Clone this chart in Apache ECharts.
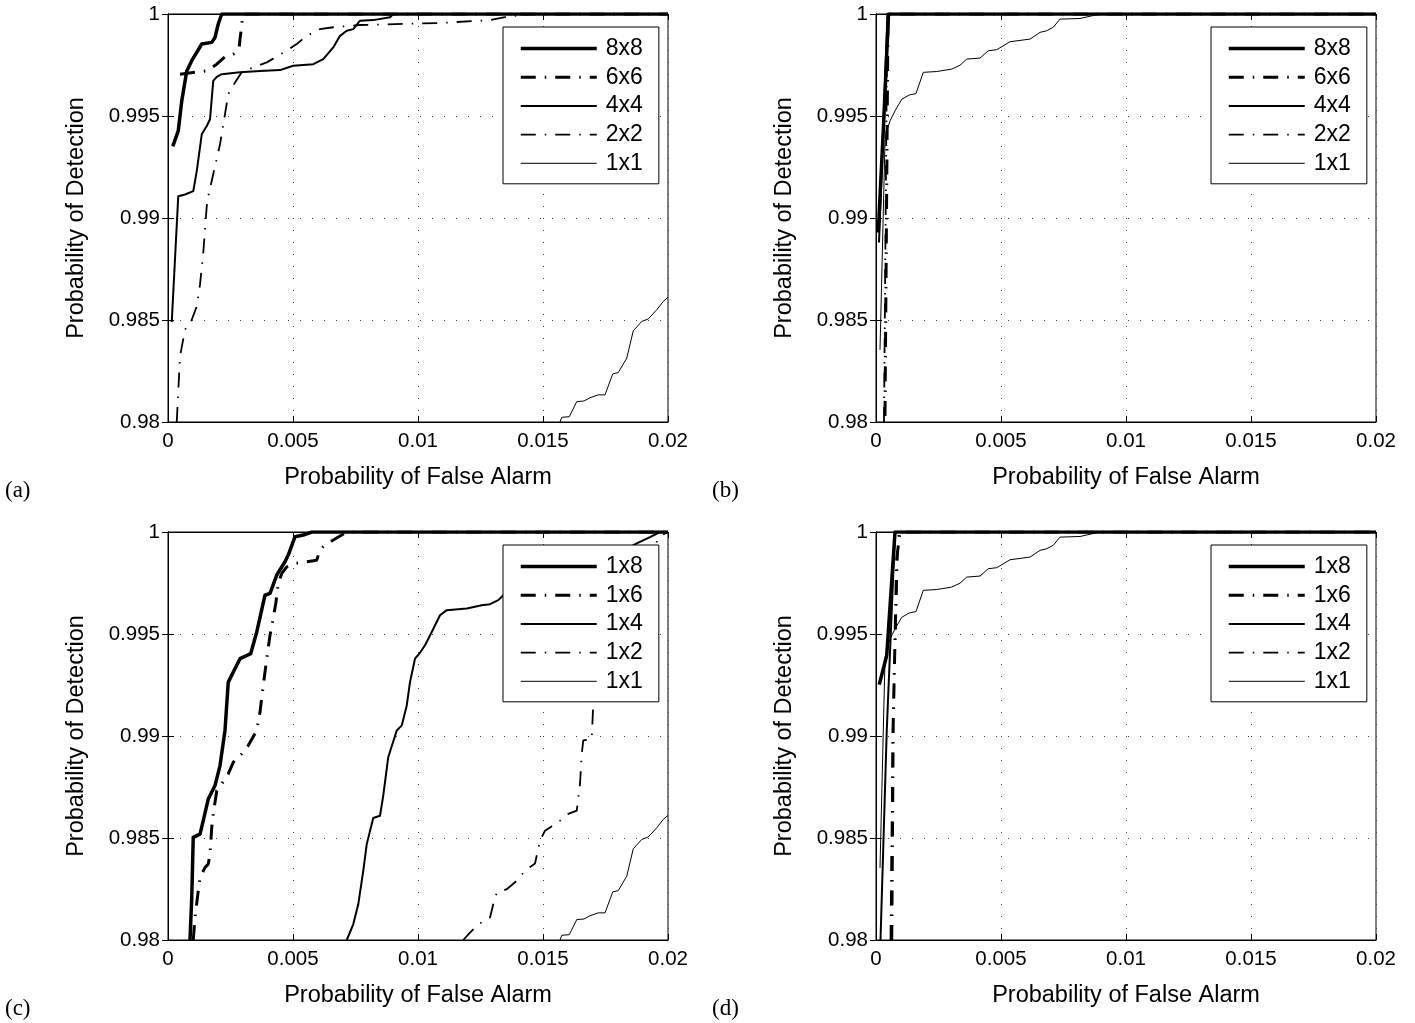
<!DOCTYPE html>
<html><head><meta charset="utf-8">
<script src="https://cdn.jsdelivr.net/npm/echarts@6/dist/echarts.min.js"></script>
<style>html,body{margin:0;padding:0;background:#fff}#c{width:1415px;height:1023px}</style>
</head><body><div id="c"></div>
<script>
// ---- tick labels / names ----
const xTickLabels = ['0', '0.005', '0.01', '0.015', '0.02'];
const yTickLabels = ['0.98', '0.985', '0.99', '0.995', '1'];
const namesTop = ['8x8', '6x6', '4x4', '2x2', '1x1'];
const namesBottom = ['1x8', '1x6', '1x4', '1x2', '1x1'];
const panelLabels = ['(a)', '(b)', '(c)', '(d)'];
const xTitle = 'Probability of False Alarm';
const yTitle = 'Probability of Detection';

// ---- panel (a) ----
const a_8x8 = [[0.00019,0.99351],[0.00041,0.99427],[0.00055,0.99574],[0.00075,0.99721],[0.00095,0.99771],[0.00135,0.99853],[0.00175,0.99861],[0.00188,0.99885],[0.00201,0.99951],[0.00215,1],[0.02,1]];
const a_6x6 = [[0.00048,0.99705],[0.00155,0.99721],[0.00195,0.99754],[0.00228,0.9979],[0.00261,0.99803],[0.00284,0.99828],[0.00288,0.99877],[0.00295,0.99943],[0.00299,1],[0.02,1]];
const a_4x4 = [[0.00015,0.9849],[0.00041,0.99107],[0.00068,0.99115],[0.00101,0.99132],[0.00115,0.9923],[0.00135,0.9941],[0.00155,0.99451],[0.00168,0.99484],[0.00181,0.99672],[0.00195,0.99692],[0.00215,0.99705],[0.00288,0.99714],[0.00368,0.99721],[0.00448,0.99725],[0.00501,0.99746],[0.00581,0.99754],[0.00621,0.99779],[0.00661,0.99836],[0.00688,0.99893],[0.00715,0.99918],[0.00741,0.99926],[0.00768,0.99967],[0.00821,0.9997],[0.00888,0.99984],[0.00901,1],[0.02,1]];
const a_2x2 = [[0.00035,0.98],[0.00048,0.98321],[0.00068,0.98452],[0.00095,0.98501],[0.00115,0.98567],[0.00128,0.98673],[0.00141,0.98829],[0.00155,0.99058],[0.00161,0.99107],[0.00208,0.99361],[0.00228,0.99509],[0.00241,0.99607],[0.00268,0.99664],[0.00295,0.99714],[0.00341,0.99738],[0.00395,0.99763],[0.00475,0.9982],[0.00515,0.99853],[0.00555,0.99893],[0.00608,0.99926],[0.00661,0.99935],[0.00768,0.99946],[0.01088,0.99956],[0.01288,0.9997],[0.01348,0.99985],[0.01448,1],[0.02,1]];
const a_1x1 = [[0.01568,0.98],[0.01575,0.98023],[0.01605,0.98026],[0.01635,0.981],[0.01664,0.98103],[0.01688,0.98119],[0.01721,0.98133],[0.01748,0.98133],[0.01779,0.98236],[0.01801,0.98242],[0.01835,0.98313],[0.01861,0.98447],[0.01895,0.98493],[0.01921,0.98505],[0.01955,0.9855],[0.01981,0.98591],[0.02,0.98611]];

// ---- panel (b) ----
const b_8x8 = [[0.00009,0.98929],[0.00030,0.99450],[0.00050,1],[0.02,1]];
const b_6x6 = [[0.00036,0.9803],[0.00048,1],[0.02,1]];
const b_4x4 = [[0.00012,0.9888],[0.00046,1],[0.02,1]];
const b_2x2 = [[0.00032,0.98],[0.00045,1],[0.02,1]];
const b_1x1 = [[0.00016,0.98354],[0.00036,0.99377],[0.00043,0.99427],[0.00056,0.99476],[0.00076,0.99525],[0.00103,0.99582],[0.00133,0.99603],[0.0016,0.9961],[0.00189,0.99714],[0.00243,0.99718],[0.00303,0.9973],[0.00336,0.99749],[0.00363,0.99779],[0.00416,0.99784],[0.00449,0.9982],[0.00483,0.99825],[0.00536,0.99864],[0.00616,0.99877],[0.00656,0.9991],[0.00683,0.99918],[0.00709,0.99935],[0.00736,0.99975],[0.00816,0.99978],[0.00896,1],[0.02,1]];

// ---- panel (c) ----
const c_1x8 = [[0.00088,0.98],[0.00095,0.98208],[0.00101,0.98503],[0.00128,0.98519],[0.00141,0.98585],[0.00161,0.98691],[0.00188,0.98757],[0.00208,0.98855],[0.00228,0.99027],[0.00241,0.99264],[0.00288,0.99379],[0.00331,0.99404],[0.00355,0.9951],[0.00388,0.9969],[0.00408,0.99699],[0.00435,0.99789],[0.00468,0.99854],[0.00481,0.99887],[0.00508,0.99977],[0.00541,0.99985],[0.00575,1],[0.02,1]];
const c_1x6 = [[0.00101,0.98],[0.00108,0.9811],[0.00121,0.98241],[0.00128,0.98306],[0.00148,0.98355],[0.00161,0.98372],[0.00168,0.98421],[0.00175,0.98552],[0.00181,0.98618],[0.00195,0.98732],[0.00215,0.98765],[0.00241,0.98814],[0.00261,0.98871],[0.00295,0.98913],[0.00321,0.98953],[0.00355,0.99027],[0.00368,0.99117],[0.00381,0.99248],[0.00395,0.99379],[0.00408,0.99494],[0.00421,0.99576],[0.00432,0.99657],[0.00441,0.99748],[0.00455,0.99797],[0.00475,0.99829],[0.00508,0.99846],[0.00555,0.99854],[0.00595,0.99862],[0.00605,0.99903],[0.00621,0.99928],[0.00661,0.99961],[0.00695,0.99985],[0.00715,1],[0.02,1]];
const c_1x4 = [[0.00715,0.98],[0.00741,0.98077],[0.00761,0.98175],[0.00781,0.98339],[0.00795,0.9847],[0.00821,0.98598],[0.00848,0.98609],[0.00861,0.98708],[0.00881,0.98896],[0.00915,0.99027],[0.00935,0.99052],[0.00955,0.9915],[0.00968,0.99264],[0.00988,0.99379],[0.01008,0.99408],[0.01028,0.99445],[0.01055,0.9951],[0.01088,0.99592],[0.01115,0.99617],[0.01195,0.99625],[0.01255,0.99641],[0.01288,0.99646],[0.01321,0.99666],[0.01341,0.9969],[0.01448,0.9974],[0.01568,0.99789],[0.01688,0.99838],[0.01788,0.99887],[0.01875,0.99944],[0.01928,0.99975],[0.01968,1],[0.02,1]];
const c_1x2 = [[0.01181,0.98],[0.01208,0.98036],[0.01241,0.98077],[0.01288,0.9811],[0.01301,0.98175],[0.01315,0.98232],[0.01355,0.98249],[0.01395,0.9829],[0.01428,0.98339],[0.01468,0.98375],[0.01488,0.98487],[0.01508,0.98536],[0.01528,0.98552],[0.01568,0.98585],[0.01601,0.98618],[0.01635,0.98634],[0.01648,0.98765],[0.01655,0.98913],[0.01661,0.98978],[0.01695,0.98986],[0.01701,0.99158],[0.01728,0.99371],[0.01776,0.99568],[0.01828,0.99715],[0.01888,0.99838],[0.01936,0.99921],[0.01976,0.99985],[0.02,1]];
const c_1x1 = [[0.01568,0.98],[0.01575,0.98023],[0.01605,0.98026],[0.01635,0.981],[0.01664,0.98103],[0.01688,0.98119],[0.01721,0.98133],[0.01748,0.98133],[0.01779,0.98236],[0.01801,0.98242],[0.01835,0.98313],[0.01861,0.98447],[0.01895,0.98493],[0.01921,0.98505],[0.01955,0.9855],[0.01981,0.98591],[0.02,0.98611]];

// ---- panel (d) ----
const d_1x8 = [[0.00013,0.99252],[0.00043,0.99396],[0.00076,1],[0.02,1]];
const d_1x6 = [[0.00063,0.98],[0.00069,0.99068],[0.00083,0.99872],[0.00096,1],[0.02,1]];
const d_1x4 = [[0.00018,0.98],[0.00043,0.99027],[0.00076,1],[0.02,1]];
const d_1x2 = [[0.00058,0.98],[0.00066,0.99],[0.0009,1],[0.02,1]];
const d_1x1 = [[0.00016,0.98354],[0.00036,0.99377],[0.00043,0.99427],[0.00056,0.99476],[0.00076,0.99525],[0.00103,0.99582],[0.00133,0.99603],[0.0016,0.9961],[0.00189,0.99714],[0.00243,0.99718],[0.00303,0.9973],[0.00336,0.99749],[0.00363,0.99779],[0.00416,0.99784],[0.00449,0.9982],[0.00483,0.99825],[0.00536,0.99864],[0.00616,0.99877],[0.00656,0.9991],[0.00683,0.99918],[0.00709,0.99935],[0.00736,0.99975],[0.00816,0.99978],[0.00896,1],[0.02,1]];

const panelData = [
  [a_8x8, a_6x6, a_4x4, a_2x2, a_1x1],
  [b_8x8, b_6x6, b_4x4, b_2x2, b_1x1],
  [c_1x8, c_1x6, c_1x4, c_1x2, c_1x1],
  [d_1x8, d_1x6, d_1x4, d_1x2, d_1x1]
];

// ---- layout / style (not data) ----
const panels = [
  {left: 168, top: 14, label: [5, 479]},
  {left: 876, top: 14, label: [712, 479]},
  {left: 168, top: 532, label: [5, 997]},
  {left: 876, top: 532, label: [712, 997]}
];
const PW = 500, PH = 408;
const DASHDOT = [15, 9, 1.5, 9];
const styles = [
  {width: 3.5, type: 'solid'},
  {width: 3, type: DASHDOT},
  {width: 2, type: 'solid'},
  {width: 1.8, type: DASHDOT},
  {width: 1, type: 'solid'}
];
const FONT = '"Liberation Sans", Arial, Helvetica, sans-serif';

const grid = [], xAxis = [], yAxis = [], series = [], legend = [], graphic = [];
const fmtX = v => xTickLabels[Math.round(v / 0.005)] ?? '';
const fmtY = v => yTickLabels[Math.round((v - 0.98) / 0.005)] ?? '';

panels.forEach((p, i) => {
  grid.push({left: p.left, top: p.top, width: PW, height: PH, show: true, borderColor: '#000', borderWidth: 1, backgroundColor: '#fff'});
  const axLine = {show: true, lineStyle: {color: '#000', width: 1}};
  const tick = {show: true, inside: true, length: 6, lineStyle: {color: '#000', width: 1}};
  const grd = {show: true, lineStyle: {color: '#444', width: 1, type: [1, 11]}};
  xAxis.push({type: 'value', gridIndex: i, min: 0, max: 0.02, interval: 0.005, position: 'bottom',
    axisLine: axLine, axisTick: tick, splitLine: grd,
    axisLabel: {formatter: fmtX, color: '#000', fontFamily: FONT, fontSize: 20.5, margin: 9},
    name: xTitle, nameLocation: 'middle', nameGap: 44,
    nameTextStyle: {color: '#000', fontFamily: FONT, fontSize: 23.5}});
  xAxis.push({type: 'value', gridIndex: i, min: 0, max: 0.02, interval: 0.005, position: 'top',
    axisLine: axLine, axisTick: tick, splitLine: {show: false}, axisLabel: {show: false}});
  yAxis.push({type: 'value', gridIndex: i, min: 0.98, max: 1, interval: 0.005, position: 'left',
    axisLine: axLine, axisTick: tick, splitLine: grd,
    axisLabel: {formatter: fmtY, color: '#000', fontFamily: FONT, fontSize: 20.5, margin: 8},
    name: yTitle, nameLocation: 'middle', nameGap: 79,
    nameTextStyle: {color: '#000', fontFamily: FONT, fontSize: 23.5}});
  yAxis.push({type: 'value', gridIndex: i, min: 0.98, max: 1, interval: 0.005, position: 'right',
    axisLine: axLine, axisTick: tick, splitLine: {show: false}, axisLabel: {show: false}});

  const names = i < 2 ? namesTop : namesBottom;
  panelData[i].forEach((d, k) => {
    series.push({type: 'line', name: names[k], xAxisIndex: 2 * i, yAxisIndex: 2 * i,
      data: d, symbol: 'none', showSymbol: false, clip: true, animation: false, z: 10 - k,
      lineStyle: {color: '#000', width: styles[k].width, type: styles[k].type, cap: 'butt', join: 'round'},
      itemStyle: {color: '#000'}});
  });

  legend.push({orient: 'vertical', left: p.left + 335, top: p.top + 13,
    itemWidth: 76, itemHeight: 14, itemGap: 5.7, padding: [10, 16, 9, 16],
    borderColor: '#000', borderWidth: 1, backgroundColor: '#fff', selectedMode: false, z: 20,
    itemStyle: {opacity: 0},
    textStyle: {color: '#000', fontFamily: FONT, fontSize: 23, padding: [0, 0, 0, 4]},
    data: names.map((n, k) => ({name: n,
      itemStyle: {opacity: 0},
      lineStyle: {color: '#000', width: styles[k].width, type: styles[k].type, opacity: 1}}))});

  graphic.push({type: 'text', left: p.label[0], top: p.label[1],
    style: {text: panelLabels[i], fill: '#000', font: '23px "Liberation Serif", "Times New Roman", serif'}});
});

const chart = echarts.init(document.getElementById('c'), null, {renderer: 'canvas'});
chart.setOption({animation: false, backgroundColor: '#fff', grid, xAxis, yAxis, series, legend, graphic});
</script></body></html>
